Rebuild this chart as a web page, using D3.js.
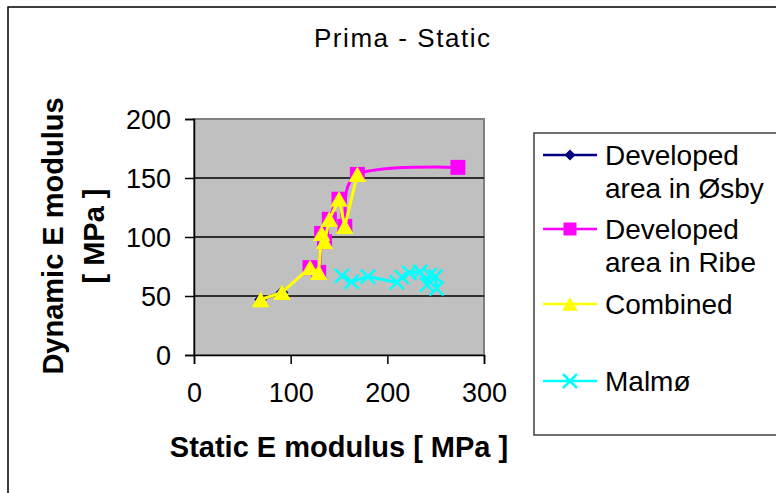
<!DOCTYPE html>
<html>
<head>
<meta charset="utf-8">
<script src="https://cdn.jsdelivr.net/npm/d3@7"></script>
<style>
  html, body { margin: 0; padding: 0; background: #fff; }
  svg { display: block; font-family: "Liberation Sans", Arial, sans-serif; }
</style>
</head>
<body>
<svg id="chart" width="776" height="493"></svg>
<script>
// ---- data ----
const chartTitle = "Prima - Static";
const xAxisTitle = "Static E modulus [ MPa ]";
const yAxisTitleLines = ["Dynamic E modulus", "[ MPa ]"];
const xTicks = [0, 100, 200, 300];
const yTicks = [0, 50, 100, 150, 200];

const osbyX = [69, 91];
const osbyY = [47, 53];

const ribeX = [120, 129, 132, 135, 140, 150, 156, 169, 273];
const ribeY = [74, 70, 103, 96, 115, 132, 109, 153, 159];

const combinedX = [69, 91, 120, 129, 132, 135, 140, 150, 156, 169];
const combinedY = [47, 53, 74, 70, 103, 96, 115, 132, 109, 153];

const malmoX = [153, 163, 180, 210, 215, 223, 234, 241, 244, 250, 251];
const malmoY = [67, 62, 66.5, 61.5, 66, 69.5, 70.5, 59.5, 68, 66.5, 56.5];

const seriesNames = [["Developed", "area in Øsby"], ["Developed", "area in Ribe"], ["Combined"], ["Malmø"]];
const seriesColors = ["#000080", "#ff00ff", "#ffff00", "#00ffff"];

// ---- drawing ----
const svg = d3.select("#chart");
const x = d3.scaleLinear().domain([0, 300]).range([194, 484]);
const y = d3.scaleLinear().domain([0, 200]).range([355, 119]);

// outer chart border
svg.append("rect").attr("x", 8).attr("y", 7).attr("width", 800).attr("height", 520)
  .attr("fill", "#fff").attr("stroke", "#000").attr("stroke-width", 1.5);

// title
svg.append("text").attr("x", 402).attr("y", 47).attr("text-anchor", "middle")
  .attr("font-size", 26).attr("textLength", 176).attr("lengthAdjust", "spacing")
  .text(chartTitle);

// plot area
svg.append("rect").attr("x", x(0)).attr("y", y(200))
  .attr("width", x(300) - x(0)).attr("height", y(0) - y(200))
  .attr("fill", "#c0c0c0").attr("stroke", "#808080").attr("stroke-width", 2);

// gridlines
svg.append("g").selectAll("line").data(yTicks.filter(d => d > 0 && d < 200)).join("line")
  .attr("x1", x(0)).attr("x2", x(300)).attr("y1", d => y(d)).attr("y2", d => y(d))
  .attr("stroke", "#000").attr("stroke-width", 1.5);

// axes
const yAxis = d3.axisLeft(y).tickValues(yTicks).tickSize(9).tickPadding(14);
const gy = svg.append("g").attr("transform", `translate(${x(0)},0)`).call(yAxis);
const xAxis = d3.axisBottom(x).tickValues(xTicks).tickSize(9).tickPadding(12);
const gx = svg.append("g").attr("transform", `translate(0,${y(0)})`).call(xAxis);
[gx, gy].forEach(g => {
  g.select(".domain").attr("stroke", "#000").attr("stroke-width", 1.5);
  g.selectAll(".tick line").attr("stroke", "#000").attr("stroke-width", 1.5);
  g.selectAll(".tick text").attr("font-size", 27).attr("fill", "#000")
    .attr("font-family", "Liberation Sans, Arial, sans-serif");
});
gy.selectAll(".tick text").attr("dy", "0.36em");
gx.selectAll(".tick text").attr("dy", "0.95em");

// axis titles
svg.append("text").attr("x", 339).attr("y", 457).attr("text-anchor", "middle")
  .attr("font-size", 29).attr("font-weight", "bold").text(xAxisTitle);
const yTitleBase = [63, 104];
yAxisTitleLines.forEach((t, i) => {
  svg.append("text").attr("transform", `translate(${yTitleBase[i]},236) rotate(-90)`)
    .attr("text-anchor", "middle").attr("font-size", 29).attr("font-weight", "bold").text(t);
});

// markers
function marker(g, type, color, cx, cy, s) {
  if (type === 0) {
    g.append("path").attr("d", `M${cx},${cy - s}L${cx + s},${cy}L${cx},${cy + s}L${cx - s},${cy}Z`)
      .attr("fill", color);
  } else if (type === 1) {
    g.append("rect").attr("x", cx - s).attr("y", cy - s).attr("width", 2 * s).attr("height", 2 * s)
      .attr("fill", color);
  } else if (type === 2) {
    g.append("path").attr("d", `M${cx},${cy - s}L${cx + s * 1.1},${cy + s * 0.95}L${cx - s * 1.1},${cy + s * 0.95}Z`)
      .attr("fill", color);
  } else {
    g.append("path").attr("d", `M${cx - s},${cy - s}L${cx + s},${cy + s}M${cx + s},${cy - s}L${cx - s},${cy + s}`)
      .attr("stroke", color).attr("stroke-width", 2.5).attr("fill", "none");
  }
}

const allSeries = [
  { xs: osbyX, ys: osbyY, curve: d3.curveLinear, size: 6.5 },
  { xs: ribeX, ys: ribeY, curve: d3.curveCardinal.tension(0), size: 7.5 },
  { xs: combinedX, ys: combinedY, curve: d3.curveLinear, size: 8 },
  { xs: malmoX, ys: malmoY, curve: d3.curveLinear, size: 7 }
];

allSeries.forEach((s, i) => {
  const pts = s.xs.map((v, j) => [x(v), y(s.ys[j])]);
  const g = svg.append("g");
  g.append("path").attr("d", d3.line().curve(s.curve)(pts))
    .attr("fill", "none").attr("stroke", seriesColors[i]).attr("stroke-width", 3)
    .attr("stroke-linejoin", "round");
  pts.forEach(p => marker(g, i, seriesColors[i], p[0], p[1], s.size));
});

// legend
svg.append("rect").attr("x", 534).attr("y", 133).attr("width", 300).attr("height", 302)
  .attr("fill", "#fff").attr("stroke", "#404040").attr("stroke-width", 1.5);
const legendLineY = [155, 229, 304, 381];
const legendSizes = [5.5, 6.5, 7, 7];
seriesNames.forEach((lines, i) => {
  const g = svg.append("g");
  const ly = legendLineY[i];
  g.append("line").attr("x1", 543).attr("x2", 597).attr("y1", ly).attr("y2", ly)
    .attr("stroke", seriesColors[i]).attr("stroke-width", 2.5);
  marker(g, i, seriesColors[i], 570, ly, legendSizes[i]);
  lines.forEach((t, k) => {
    g.append("text").attr("x", 605).attr("y", ly + 10 + k * 33)
      .attr("font-size", 28).text(t);
  });
});
</script>
</body>
</html>
